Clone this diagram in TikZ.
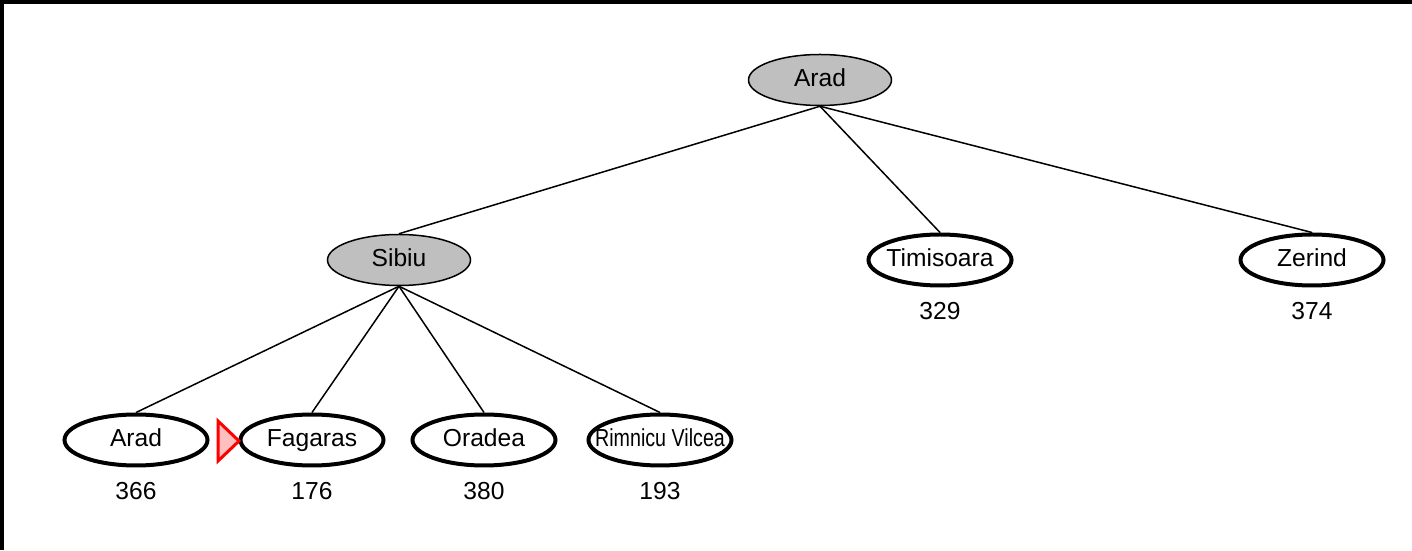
\documentclass[tikz,border=0pt]{standalone}
\usepackage{fontspec}
\setmainfont{Liberation Sans}
\usepackage{tikz}
\usepackage{tkz-euclide}
\usetikzlibrary{shapes.geometric}

\tikzset{
  city/.style={ellipse,draw,line width=0.08cm,fill=white,minimum width=2.86cm,
    minimum height=1.02cm,inner ysep=0pt,inner xsep=-0.07cm,text height=0.72em,
    text depth=0pt,font=\fontsize{14}{16}\selectfont},
  expanded/.style={city,line width=0.03cm,fill=black!25},
  hval/.style={label={[font=\fontsize{14}{16}\selectfont,label distance=0.17cm]below:#1}},
  branch/.style={line width=0.03cm}
}

\begin{document}
\begin{tikzpicture}
  \useasboundingbox (0,0) rectangle (28.24,11);
  \fill[black] (0,0) rectangle (0.08,11);
  \fill[black] (0,10.92) rectangle (28.24,11);

  \tkzDefPoints{16.4/9.4/R, 7.98/5.8/S, 18.8/5.8/T, 26.24/5.8/Z}
  \tkzDefPoints{2.72/2.2/A, 6.24/2.2/F, 9.68/2.2/O, 13.2/2.2/V}

  \node[expanded] (arad) at (R) {Arad};
  \node[expanded] (sibiu) at (S) {Sibiu};
  \node[city,hval=329] (timisoara) at (T) {Timisoara};
  \node[city,hval=374] (zerind) at (Z) {Zerind};

  \node[city,hval=366] (arad2) at (A) {Arad};
  \node[city,hval=176] (fagaras) at (F) {Fagaras};
  \node[city,hval=380] (oradea) at (O) {Oradea};
  % long name: squeeze it so the ellipse keeps its size
  \node[city,hval=193] (rimnicu) at (V) {\makebox[0pt]{\scalebox{0.8}[1]{Rimnicu Vilcea}}};

  \foreach \c in {sibiu,timisoara,zerind}
    \draw[branch] (arad.south) -- (\c.north);
  \foreach \c in {arad2,fagaras,oradea,rimnicu}
    \draw[branch] (sibiu.south) -- (\c.north);

  % next node to expand
  \draw[red,line width=0.06cm,fill=red!25,line join=miter]
    (4.36,2.58) -- (4.78,2.18) -- (4.36,1.78) -- cycle;
\end{tikzpicture}
\end{document}
